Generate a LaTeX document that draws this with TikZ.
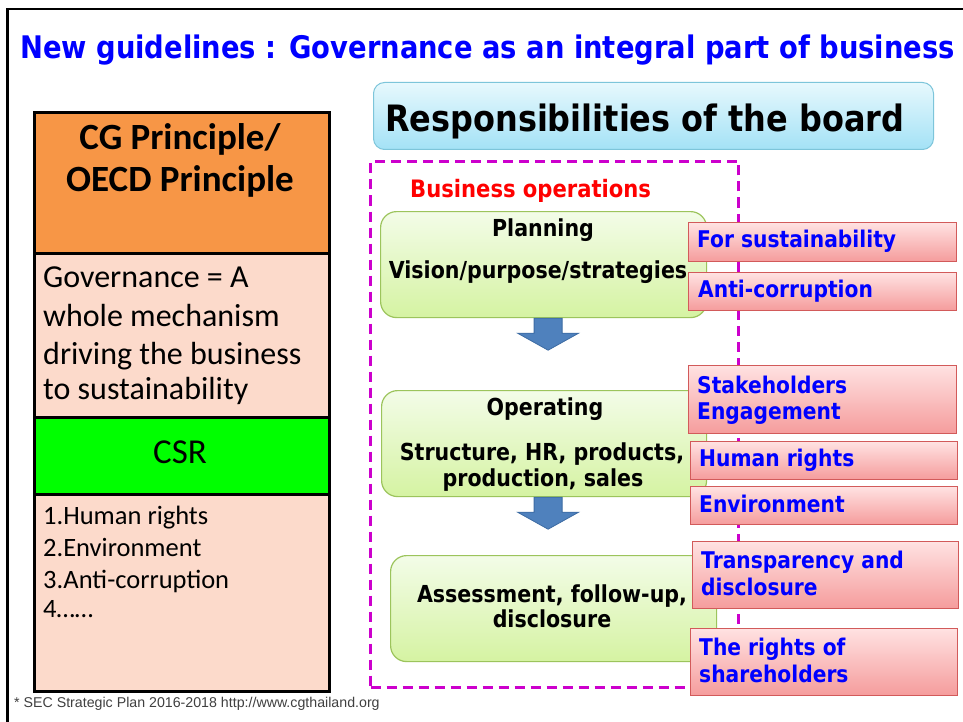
\documentclass[tikz,border=0pt]{standalone}
\usepackage{fontspec}
\setmainfont{Carlito}
\newfontfamily\comic[FakeStretch=0.88]{DejaVu Sans}
\newfontfamily\arialf{Liberation Sans}
\definecolor{titleblue}{HTML}{0000FF}
\definecolor{cgorange}{HTML}{F79646}
\definecolor{peach}{HTML}{FCDACB}
\definecolor{csrgreen}{HTML}{00FF00}
\definecolor{magdash}{HTML}{CC00CC}
\definecolor{respTop}{HTML}{E6F8FD}
\definecolor{respBot}{HTML}{A4E2F6}
\definecolor{respLine}{HTML}{7DC5DA}
\definecolor{grTop}{HTML}{F3FCE8}
\definecolor{grBot}{HTML}{D5F3A2}
\definecolor{grLine}{HTML}{9CC45C}
\definecolor{rdTop}{HTML}{FFE2E2}
\definecolor{rdBot}{HTML}{F59C9C}
\definecolor{rdLine}{HTML}{D25A5A}
\definecolor{arrFill}{HTML}{4F81BD}
\definecolor{arrLine}{HTML}{3C6BA3}
\definecolor{footgray}{HTML}{404040}
\begin{document}
\begin{tikzpicture}[x=1pt,y=-1pt,
  cell/.style={draw=black, line width=2.6pt, inner sep=0pt, anchor=north west},
  respbox/.style={draw=respLine, line width=1pt, rounded corners=11pt, top color=respTop, bottom color=respBot, inner sep=0pt, anchor=north west},
  greenbox/.style={draw=grLine, line width=1.2pt, rounded corners=16pt, top color=grTop, bottom color=grBot, inner sep=0pt, anchor=north west},
  redbox/.style={draw=rdLine, line width=1.2pt, top color=rdTop, bottom color=rdBot, inner sep=0pt, anchor=north west},
  blockarrow/.style={fill=arrFill, draw=arrLine, line width=0.8pt, line join=miter},
  cgtext/.style={inner sep=0pt, anchor=base, font=\bfseries\fontsize{37}{42}\selectfont},
  govtext/.style={inner sep=0pt, anchor=base west, font=\fontsize{32}{38}\selectfont},
  listtext/.style={inner sep=0pt, anchor=base west, font=\fontsize{26.5}{31}\selectfont},
  gtext/.style={inner sep=0pt, anchor=base, font=\comic\bfseries\fontsize{23.4}{26}\selectfont},
  rtext/.style={inner sep=0pt, anchor=base west, text=titleblue, font=\comic\bfseries\fontsize{23}{26}\selectfont}
]
\useasboundingbox (0,0) rectangle (963,722);
\fill[white] (0,0) rectangle (963,722);
% page frame
\draw[line width=2.6pt, black] (7.5,722) -- (7.5,9) -- (963,9);
% title
\node[inner sep=0pt, anchor=base west, text=titleblue, font=\comic\bfseries\fontsize{31.1}{36}\selectfont] (title) at (20,59) {New guidelines : Governance as an integral part of business};

% left column
\node[cell, fill=cgorange, minimum width=295pt, minimum height=141pt] (cg) at (33,111) {};
\node[cell, fill=peach, minimum width=295pt, minimum height=164pt] (gov) at (33,252) {};
\node[cell, fill=csrgreen, minimum width=295pt, minimum height=77pt] (csr) at (33,416) {};
\node[cell, fill=peach, minimum width=295pt, minimum height=197pt] (list) at (33,493) {};
\node[cgtext] (cg1) at (180,150) {CG Principle/};
\node[cgtext] (cg2) at (180,192) {OECD Principle};
\node[govtext] (gov1) at (43,287) {Governance = A};
\node[govtext] (gov2) at (43,326) {whole mechanism};
\node[govtext] (gov3) at (43,364) {driving the business};
\node[govtext] (gov4) at (43,399) {to sustainability};
\node[inner sep=0pt, anchor=base, font=\fontsize{35}{40}\selectfont] (csrT) at (180,463) {CSR};
\node[listtext] (l1) at (43,524) {1.Human rights};
\node[listtext] (l2) at (43,556) {2.Environment};
\node[listtext] (l3) at (43,588) {3.Anti-corruption};
\node[listtext] (l4) at (43,617) {4……};

% responsibilities
\node[respbox, minimum width=560pt, minimum height=67pt] (resp) at (373,82) {};
\node[inner sep=0pt, anchor=base west, font=\comic\bfseries\fontsize{36.3}{42}\selectfont] (respT) at (385,132) {Responsibilities of the board};

% dashed business operations frame
\node[draw=magdash, line width=3pt, dash pattern=on 10pt off 6pt, inner sep=0pt, anchor=north west, minimum width=368pt, minimum height=526pt] (ops) at (369,160) {};
\node[inner sep=0pt, anchor=base west, text=red, font=\comic\bfseries\fontsize{24}{28}\selectfont] (opsT) at (410,197) {Business operations};

% green process boxes
\node[greenbox, minimum width=326pt, minimum height=106pt] (plan) at (380,211) {};
\node[greenbox, minimum width=325pt, minimum height=106pt] (oper) at (381,390) {};
\node[greenbox, minimum width=326pt, minimum height=106pt] (asse) at (390,555) {};
\node[gtext] (planT1) at (543,236) {Planning};
\node[gtext] (planT2) at (538,278) {Vision/purpose/strategies};
\node[gtext] (operT1) at (545,415) {Operating};
\node[gtext] (operT2) at (542,460) {Structure, HR, products,};
\node[gtext] (operT3) at (543,486) {production, sales};
\node[gtext] (asseT1) at (552,602) {Assessment, follow-up,};
\node[gtext] (asseT2) at (552,627) {disclosure};

% block arrows (drawn as shapes hanging from the boxes above)
\draw[blockarrow] ([xshift=-9.5pt]plan.south) -- ++(0,15) -- ++(-16.5,0) -- ++(30.5,17) -- ++(30.5,-17) -- ++(-16.5,0) -- ++(0,-15) -- cycle;
\draw[blockarrow] ([xshift=-10pt]oper.south) -- ++(0,15) -- ++(-16.5,0) -- ++(30.5,17) -- ++(30.5,-17) -- ++(-16.5,0) -- ++(0,-15) -- cycle;

% red boxes
\node[redbox, minimum width=268pt, minimum height=39pt] (r1) at (688,222) {};
\node[redbox, minimum width=268pt, minimum height=38pt] (r2) at (688,272) {};
\node[redbox, minimum width=268pt, minimum height=68pt] (r3) at (688,365) {};
\node[redbox, minimum width=267pt, minimum height=38pt] (r4) at (690,441) {};
\node[redbox, minimum width=267pt, minimum height=38pt] (r5) at (690,486) {};
\node[redbox, minimum width=266pt, minimum height=67pt] (r6) at (692,541) {};
\node[redbox, minimum width=267pt, minimum height=67pt] (r7) at (690,628) {};
\node[rtext] (r1T) at (697,247) {For sustainability};
\node[rtext] (r2T) at (698,297) {Anti-corruption};
\node[rtext] (r3T) at (697,393) {Stakeholders};
\node[rtext] (r3T2) at (697,419) {Engagement};
\node[rtext] (r4T) at (699,466) {Human rights};
\node[rtext] (r5T) at (699,512) {Environment};
\node[rtext] (r6T) at (701,568) {Transparency and};
\node[rtext] (r6T2) at (701,595) {disclosure};
\node[rtext] (r7T) at (699,655) {The rights of};
\node[rtext] (r7T2) at (699,682) {shareholders};

% footer
\node[inner sep=0pt, anchor=base west, text=footgray, font=\arialf\fontsize{14.2}{16}\selectfont] (foot) at (14,707) {* SEC Strategic Plan 2016-2018 http://www.cgthailand.org};
\end{tikzpicture}
\end{document}
